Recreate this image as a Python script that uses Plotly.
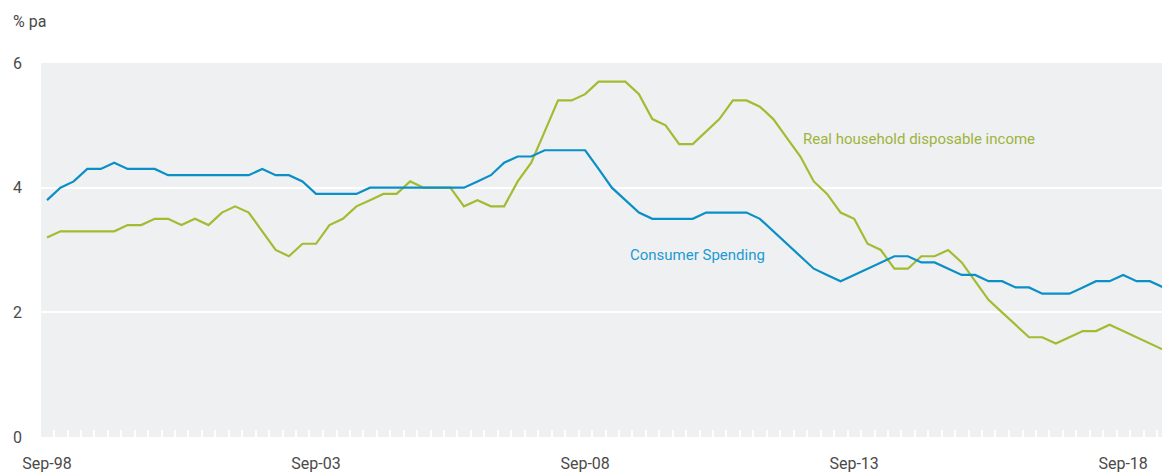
import pandas as pd
import plotly.graph_objects as go

# Quarterly observations, Sep-98 .. Jun-19
quarters = pd.date_range("1998-09-15", periods=84, freq=pd.DateOffset(months=3))

consumer_spending = [
    3.8, 4.0, 4.1, 4.3, 4.3, 4.4, 4.3, 4.3, 4.3,
    4.2, 4.2, 4.2, 4.2, 4.2, 4.2, 4.2, 4.3, 4.2, 4.2, 4.1,
    3.9, 3.9, 3.9, 3.9, 4.0, 4.0, 4.0, 4.0, 4.0, 4.0, 4.0, 4.0,
    4.1, 4.2, 4.4, 4.5, 4.5, 4.6, 4.6, 4.6, 4.6, 4.3, 4.0, 3.8, 3.6,
    3.5, 3.5, 3.5, 3.5, 3.6, 3.6, 3.6, 3.6, 3.5, 3.3, 3.1, 2.9, 2.7,
    2.6, 2.5, 2.6, 2.7, 2.8, 2.9, 2.9, 2.8, 2.8, 2.7, 2.6, 2.6,
    2.5, 2.5, 2.4, 2.4, 2.3, 2.3, 2.3, 2.4, 2.5, 2.5, 2.6, 2.5, 2.5, 2.4,
]

real_disposable_income = [
    3.2, 3.3, 3.3, 3.3, 3.3, 3.3, 3.4, 3.4, 3.5, 3.5, 3.4, 3.5, 3.4,
    3.6, 3.7, 3.6, 3.3, 3.0, 2.9, 3.1, 3.1, 3.4, 3.5, 3.7, 3.8, 3.9,
    3.9, 4.1, 4.0, 4.0, 4.0, 3.7, 3.8, 3.7, 3.7, 4.1, 4.4, 4.9, 5.4,
    5.4, 5.5, 5.7, 5.7, 5.7, 5.5, 5.1, 5.0, 4.7, 4.7, 4.9, 5.1, 5.4,
    5.4, 5.3, 5.1, 4.8, 4.5, 4.1, 3.9, 3.6, 3.5, 3.1, 3.0, 2.7, 2.7,
    2.9, 2.9, 3.0, 2.8, 2.5, 2.2, 2.0, 1.8, 1.6, 1.6, 1.5, 1.6, 1.7,
    1.7, 1.8, 1.7, 1.6, 1.5, 1.4,
]

y_ticks = [0, 2, 4, 6]

BLUE = "#0a8fc6"
GREEN = "#a2bc32"
TEXT = "#4a4a4a"
FONT = "Roboto, 'Liberation Sans', Arial, sans-serif"

fig = go.Figure()
fig.add_trace(go.Scatter(x=quarters, y=real_disposable_income, mode="lines",
                         line=dict(color=GREEN, width=2.2), name="Real household disposable income"))
fig.add_trace(go.Scatter(x=quarters, y=consumer_spending, mode="lines",
                         line=dict(color=BLUE, width=2.2), name="Consumer Spending"))

# page body adds an 8px offset; size the figure so the plot lands where the reference has it
fig.update_layout(
    width=1162, height=468,
    margin=dict(l=33, r=0, t=55, b=39),
    paper_bgcolor="white",
    plot_bgcolor="#eff0f2",
    showlegend=False,
    font=dict(family=FONT, size=16, color=TEXT),
    xaxis=dict(
        type="date",
        range=["1998-08-05", "2019-07-30"],
        tick0="1998-09-15", dtick="M60", tickformat="%b-%y",
        ticks="", showgrid=False, zeroline=False, showline=False,
        ticklabelstandoff=15,
        tickfont=dict(size=16, color=TEXT),
        minor=dict(ticks="inside", ticklen=7, tickwidth=2, tickcolor="white",
                   dtick="M3", tick0="1998-08-01", showgrid=False),
    ),
    yaxis=dict(
        range=[0, 6], tickvals=y_ticks,
        showgrid=True, gridcolor="white", gridwidth=2,
        zeroline=False, showline=False, ticks="",
        ticklabelstandoff=18,
        tickfont=dict(size=16, color=TEXT),
    ),
)

fig.add_annotation(text="% pa", xref="paper", yref="paper", x=-0.027, y=1.11,
                   xanchor="left", yanchor="middle", showarrow=False,
                   font=dict(size=16, color=TEXT))
fig.add_annotation(text="Consumer Spending", xref="paper", yref="y", x=0.5195, y=2.92,
                   xanchor="left", yanchor="middle", showarrow=False,
                   font=dict(size=15, color="#1d9ad3"))
fig.add_annotation(text="Real household disposable income", xref="paper", yref="y", x=0.6735, y=4.78,
                   xanchor="left", yanchor="middle", showarrow=False,
                   font=dict(size=15, color="#9db43c"))

fig.write_html("out.html")
